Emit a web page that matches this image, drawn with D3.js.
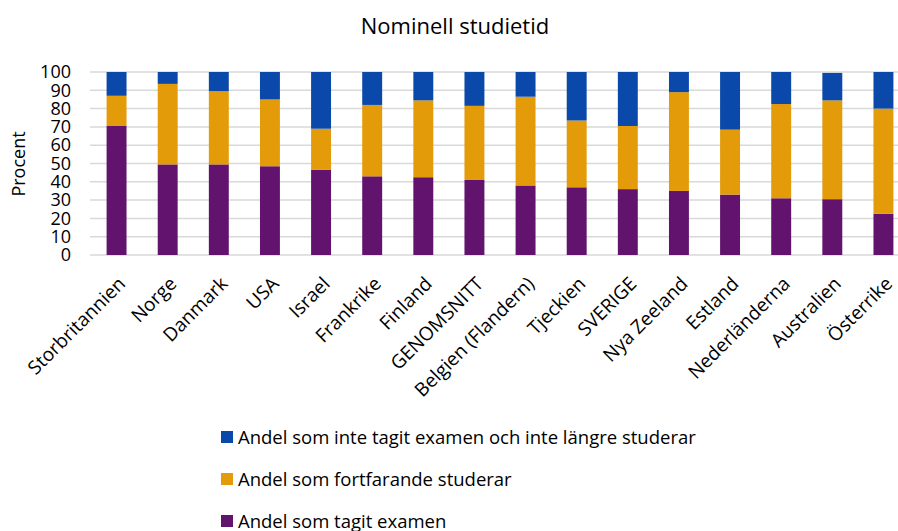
<!DOCTYPE html>
<html>
<head>
<meta charset="utf-8">
<script src="https://cdn.jsdelivr.net/npm/d3@7"></script>
<style>
  body { margin: 0; background: #fff; }
  svg { display: block; font-family: "Open Sans", "Noto Sans", sans-serif; }
</style>
</head>
<body>
<div id="chart"></div>
<script>
// countries, in the order of the chart
var countries = ["Storbritannien", "Norge", "Danmark", "USA", "Israel", "Frankrike", "Finland",
  "GENOMSNITT", "Belgien (Flandern)", "Tjeckien", "SVERIGE", "Nya Zeeland", "Estland",
  "Nederländerna", "Australien", "Österrike"];

// Andel som tagit examen
var examen = [70.5, 49.5, 49.5, 48.5, 46.5, 43, 42.5, 41, 38, 37, 36, 35, 33, 31, 30.5, 22.5];
// Andel som fortfarande studerar
var studerar = [16.5, 44, 40, 36.5, 22.5, 39, 42, 40.5, 48.5, 36.5, 34.5, 54, 35.5, 51.5, 54, 57.5];
// Andel som inte tagit examen och inte längre studerar
var inteExamen = [13, 6.5, 10.5, 15, 31, 18, 15.5, 18.5, 13.5, 26.5, 29.5, 11, 31.5, 17.5, 15, 20];

var yTicks = [0, 10, 20, 30, 40, 50, 60, 70, 80, 90, 100];

var seriesNames = ["Andel som tagit examen", "Andel som fortfarande studerar",
  "Andel som inte tagit examen och inte längre studerar"];
var colors = ["#62136e", "#e39b0a", "#0a49aa"];

var svgWidth = 898;
var svgHeight = 531;

var margin = { top: 72, left: 91, bottom: 276 };
var plotRight = 909;
var height = svgHeight - margin.top - margin.bottom;

var svg = d3.select("#chart")
  .append("svg")
  .attr("width", svgWidth)
  .attr("height", svgHeight);

var rows = countries.map(function(c, i) {
  return { country: c, examen: examen[i], studerar: studerar[i], inte: inteExamen[i] };
});

var stacked = d3.stack().keys(["examen", "studerar", "inte"])(rows);

var xScale = d3.scaleBand()
  .domain(countries)
  .range([margin.left, plotRight])
  .paddingInner(0.61)
  .paddingOuter(0.305);

var yScale = d3.scaleLinear()
  .domain([0, 100])
  .range([margin.top + height, margin.top]);

// title
svg.append("text")
  .attr("x", 455)
  .attr("y", 34)
  .attr("text-anchor", "middle")
  .style("font-size", "22px")
  .style("fill", "#000")
  .text("Nominell studietid");

// gridlines
svg.append("g")
  .selectAll("line")
  .data(yTicks)
  .enter()
  .append("line")
  .attr("x1", margin.left - 1)
  .attr("x2", plotRight)
  .attr("y1", d => yScale(d))
  .attr("y2", d => yScale(d))
  .attr("stroke", "#d9d9d9")
  .attr("stroke-width", 1.5);

// y axis
var leftAxis = d3.axisLeft(yScale).tickValues(yTicks).tickSize(0).tickPadding(20);
var yAxis = svg.append("g")
  .attr("transform", `translate(${margin.left},0)`)
  .call(leftAxis);
yAxis.select(".domain").remove();
yAxis.selectAll("text")
  .style("font-size", "18px")
  .style("font-family", "'Open Sans', sans-serif")
  .attr("fill", "#000");

svg.append("text")
  .attr("transform", "rotate(-90)")
  .attr("x", -164)
  .attr("y", 25)
  .attr("text-anchor", "middle")
  .style("font-size", "18px")
  .text("Procent");

// bars
svg.append("g")
  .selectAll("g")
  .data(stacked)
  .enter()
  .append("g")
  .attr("fill", (d, i) => colors[i])
  .selectAll("rect")
  .data(d => d)
  .enter()
  .append("rect")
  .attr("x", d => xScale(d.data.country))
  .attr("width", xScale.bandwidth())
  .attr("y", d => yScale(d[1]))
  .attr("height", d => yScale(d[0]) - yScale(d[1]));

// x axis labels
var bottomAxis = d3.axisBottom(xScale).tickSize(0).tickPadding(0);
var xAxis = svg.append("g")
  .attr("transform", `translate(0, ${margin.top + height})`)
  .call(bottomAxis);
xAxis.select(".domain").remove();
xAxis.selectAll("text")
  .style("font-size", "19px")
  .style("font-family", "'Open Sans', sans-serif")
  .attr("fill", "#000")
  .attr("text-anchor", "end")
  .attr("dy", "0")
  .attr("transform", "translate(10,30) rotate(-45)");

// legend
var legendItems = [2, 1, 0];
var legend = svg.append("g")
  .selectAll("g")
  .data(legendItems)
  .enter()
  .append("g")
  .attr("transform", (d, i) => `translate(221, ${437 + i * 42})`);

legend.append("rect")
  .attr("x", 0)
  .attr("y", -6)
  .attr("width", 12)
  .attr("height", 12)
  .attr("fill", d => colors[d]);

legend.append("text")
  .attr("x", 17)
  .attr("y", 6.5)
  .style("font-size", "18.5px")
  .text(d => seriesNames[d]);
</script>
</body>
</html>
